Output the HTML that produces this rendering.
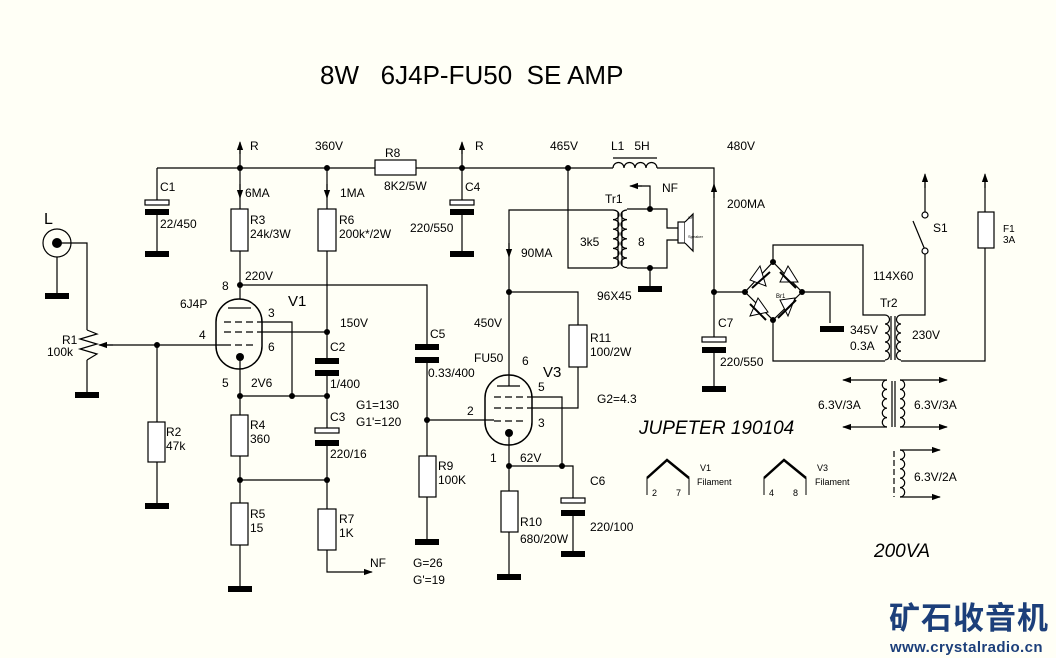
<!DOCTYPE html>
<html><head><meta charset="utf-8"><style>
html,body{margin:0;padding:0;background:#fffff6;}
svg{display:block;font-family:"Liberation Sans",Arial,sans-serif;}
text{font-size:12px;fill:#000;white-space:pre;}
</style></head><body>
<svg width="1056" height="658" viewBox="0 0 1056 658" xmlns="http://www.w3.org/2000/svg" xml:space="preserve">
<rect width="1056" height="658" fill="#fffff6"/>
<defs>
<marker id="ar" viewBox="0 0 10 10" refX="9" refY="5" markerWidth="9" markerHeight="9" markerUnits="userSpaceOnUse" orient="auto"><path d="M0,1.5 L10,5 L0,8.5 z" fill="#000"/></marker>
</defs>
<text x="320" y="84" style="font-size:26px">8W   6J4P-FU50  SE AMP</text>
<g stroke="#000" stroke-width="1.2" fill="none">
<path d="M157,168 H375 M416,168 H613 M657,168 H714 V292"/>
<rect x="375" y="160" width="41" height="15" fill="#fff"/>
<path d="M613,168 a5.5,5.5 0 0 1 11,0 a5.5,5.5 0 0 1 11,0 a5.5,5.5 0 0 1 11,0 a5.5,5.5 0 0 1 11,0"/>
<path d="M613,158 H657"/>
<path d="M240,168 V143 M462,168 V143"/>
<path d="M157,168 V200 M157,214 V253"/>
<rect x="145" y="200" width="24" height="5" fill="#fff"/>
<path d="M462,168 V200 M462,214 V253"/>
<rect x="450" y="200" width="24" height="5" fill="#fff"/>
<path d="M240,168 V209 M240,251 V299 M240,285 H427 V345 M427,360 V456 M427,497 V541"/>
<rect x="231" y="209" width="17" height="42" fill="#fff"/>
<rect x="419" y="456" width="17" height="41" fill="#fff"/>
<path d="M327,168 V209 M327,251 V359 M327,371 V428 M327,444 V509 M327,550 V572 H362" />
<rect x="318" y="209" width="18" height="42" fill="#fff"/>
<rect x="318" y="509" width="18" height="41" fill="#fff"/>
<rect x="315" y="428" width="24" height="5" fill="#fff"/>
<rect x="216" y="299" width="46" height="70" rx="23" ry="23" stroke-width="1.5"/>
<path d="M228,308 H251"/>
<path d="M224,322 H257 M224,332 H257 M224,345 H257" stroke-dasharray="7,4"/>
<path d="M257,322 H292 V396 M257,332 H327 M100,345 H224 M240,357 V415 M240,455 V503 M240,545 V588 M240,396 H327 M240,480 H327"/>
<rect x="231" y="415" width="17" height="41" fill="#fff"/>
<rect x="231" y="503" width="17" height="42" fill="#fff"/>
<circle cx="57" cy="243" r="14"/>
<path d="M57,257 V296 M57,243 H87 V330 M87,360 V392"/>
<path d="M87,330 L97,334 L80,339 L97,344 L80,349 L97,354 L87,360" />
<path d="M157,345 V422 M157,462 V505"/>
<rect x="148" y="422" width="17" height="40" fill="#fff"/>
<rect x="485" y="375" width="47" height="70" rx="23" ry="23" stroke-width="1.5"/>
<path d="M497,386 H520"/>
<path d="M494,397 H527 M494,408 H527 M494,421 H527" stroke-dasharray="7,4"/>
<path d="M509,386 V210 H613 M509,292 H578 V325 M578,367 V408 H527 M527,397 H562 V466 M427,420 H494 M509,433 V491 M509,532 V576 M509,466 H573 V498 M573,514 V553"/>
<rect x="569" y="325" width="18" height="42" fill="#fff"/>
<rect x="501" y="491" width="17" height="41" fill="#fff"/>
<rect x="561" y="498" width="24" height="5" fill="#fff"/>
<path d="M568,168 V268 H613"/>
<path d="M613,210 a6,4.8 0 0 1 0,9.6 a6,4.8 0 0 1 0,9.6 a6,4.8 0 0 1 0,9.6 a6,4.8 0 0 1 0,9.6 a6,4.8 0 0 1 0,9.6 a6,4.8 0 0 1 0,9.6"/>
<path d="M627,210 a6,4.8 0 0 0 0,9.6 a6,4.8 0 0 0 0,9.6 a6,4.8 0 0 0 0,9.6 a6,4.8 0 0 0 0,9.6 a6,4.8 0 0 0 0,9.6 a6,4.8 0 0 0 0,9.6"/>
<path d="M618,212 V266 M622,212 V266"/>
<path d="M627,209 H667 V228 H678 M627,268 H667 V240 H678 M650,268 V288 M650,209 V186 H637"/>
<rect x="678" y="222" width="7" height="21" fill="#fff"/>
<path d="M685,222 L693,214 V251 L685,243" fill="#fff"/>
<path d="M714,292 V337 M714,352 V388 M714,292 H745"/>
<rect x="702" y="337" width="24" height="5" fill="#fff"/>
<path d="M773,262 L745,292 L773,320 L802,292 Z"/>
<path d="M773,262 V245 H863 V315 H885 M773,320 V361 H885 M802,292 H830 V323"/>
<path d="M885,315 a4.5,4.5 0 0 1 0,9 a4.5,4.5 0 0 1 0,9 a4.5,4.5 0 0 1 0,9 a4.5,4.5 0 0 1 0,9 a4.5,4.5 0 0 1 0,9"/>
<path d="M901,315 a4.5,4.5 0 0 0 0,9 a4.5,4.5 0 0 0 0,9 a4.5,4.5 0 0 0 0,9 a4.5,4.5 0 0 0 0,9 a4.5,4.5 0 0 0 0,9"/>
<path d="M891,316 V360 M895,316 V360"/>
<path d="M901,315 H925 V253 M925,250 L913,221 M925,212 V178 M901,361 H985 V248 M985,212 V178"/>
<circle cx="925" cy="251" r="3" fill="#fff"/>
<circle cx="925" cy="215" r="3" fill="#fff"/>
<rect x="978" y="212" width="16" height="36" fill="#fff"/>
<path d="M887,380 a4.5,4.5 0 0 0 0,9.4 a4.5,4.5 0 0 0 0,9.4 a4.5,4.5 0 0 0 0,9.4 a4.5,4.5 0 0 0 0,9.4 a4.5,4.5 0 0 0 0,9.4"/>
<path d="M900,380 a4.5,4.5 0 0 1 0,9.4 a4.5,4.5 0 0 1 0,9.4 a4.5,4.5 0 0 1 0,9.4 a4.5,4.5 0 0 1 0,9.4 a4.5,4.5 0 0 1 0,9.4"/>
<path d="M892,381 V427 M895,381 V427"/>
<path d="M900,450 a4.5,4.5 0 0 1 0,9.4 a4.5,4.5 0 0 1 0,9.4 a4.5,4.5 0 0 1 0,9.4 a4.5,4.5 0 0 1 0,9.4 a4.5,4.5 0 0 1 0,9.4"/>
<path d="M894,451 V497" stroke-dasharray="6,3"/>
</g>
<g stroke="#000" stroke-width="1.2" fill="none" marker-end="url(#ar)">
<path d="M240,154 V142"/><path d="M462,154 V142"/>
<path d="M240,184 V198"/><path d="M327,184 V198"/>
<path d="M509,243 V257"/><path d="M714,198 V184"/>
<path d="M362,572 H372"/><path d="M642,186 H630"/>
<path d="M113,345 H99"/>
<path d="M925,188 V174"/><path d="M985,188 V174"/>
<path d="M887,380 H843"/><path d="M887,427 H843"/>
<path d="M900,380 H947"/><path d="M900,427 H947"/>
<path d="M900,450 H940"/><path d="M900,497 H940"/>
</g>
<g stroke="#000" stroke-width="1" fill="#fff">
<path d="M760,266 L766,286 L750,280 Z"/><path d="M752,288 L770,272" stroke-width="2"/>
<path d="M788,266 L798,282 L780,282 Z"/><path d="M780,272 L796,288" stroke-width="2"/>
<path d="M758,298 L768,312 L750,316 Z"/><path d="M750,304 L766,320" stroke-width="2"/>
<path d="M795,298 L788,316 L780,300 Z"/><path d="M778,318 L796,300" stroke-width="2"/>
</g>
<g fill="#000">
<circle cx="57" cy="243" r="5"/>
<circle cx="240" cy="357" r="4"/><circle cx="509" cy="433" r="4"/>
<rect x="145" y="209" width="24" height="6"/><rect x="145" y="251" width="24" height="6"/>
<rect x="450" y="209" width="24" height="6"/><rect x="450" y="251" width="24" height="6"/>
<rect x="45" y="293" width="24" height="6"/><rect x="75" y="392" width="24" height="6"/>
<rect x="145" y="503" width="24" height="6"/><rect x="228" y="586" width="24" height="6"/>
<rect x="315" y="358" width="24" height="6"/><rect x="315" y="370" width="24" height="6"/>
<rect x="315" y="440" width="24" height="6"/>
<rect x="415" y="344" width="24" height="6"/><rect x="415" y="357" width="24" height="6"/>
<rect x="415" y="539" width="24" height="6"/><rect x="497" y="574" width="24" height="6"/>
<rect x="561" y="510" width="24" height="6"/><rect x="561" y="551" width="24" height="6"/>
<rect x="638" y="286" width="24" height="6"/><rect x="702" y="347" width="24" height="6"/>
<rect x="702" y="386" width="24" height="6"/><rect x="820" y="326" width="24" height="6"/>
<circle cx="240" cy="168" r="3"/><circle cx="327" cy="168" r="3"/><circle cx="462" cy="168" r="3"/><circle cx="568" cy="168" r="3"/>
<circle cx="240" cy="285" r="3"/><circle cx="327" cy="332" r="3"/><circle cx="157" cy="345" r="3"/>
<circle cx="240" cy="396" r="3"/><circle cx="292" cy="396" r="3"/><circle cx="327" cy="396" r="3"/>
<circle cx="240" cy="480" r="3"/><circle cx="327" cy="480" r="3"/><circle cx="427" cy="420" r="3"/>
<circle cx="509" cy="292" r="3"/><circle cx="509" cy="466" r="3"/><circle cx="562" cy="466" r="3"/>
<circle cx="650" cy="209" r="3"/><circle cx="650" cy="268" r="3"/><circle cx="714" cy="292" r="3"/>
<circle cx="773" cy="262" r="3"/><circle cx="745" cy="292" r="3"/><circle cx="802" cy="292" r="3"/><circle cx="773" cy="320" r="3"/>
</g>
<g stroke="#000" fill="none">
<path d="M647,478 L667,460 L689,478" stroke-width="2.5"/>
<path d="M647,478 V495 M689,478 V495" stroke-width="1"/>
<path d="M764,478 L784,460 L806,478" stroke-width="2.5"/>
<path d="M764,478 V495 M806,478 V495" stroke-width="1"/>
</g>
<text x="250" y="150">R</text><text x="315" y="150">360V</text><text x="385" y="157">R8</text>
<text x="384" y="190">8K2/5W</text><text x="475" y="150">R</text><text x="550" y="150">465V</text>
<text x="611" y="150">L1   5H</text><text x="727" y="150">480V</text>
<text x="160" y="191">C1</text><text x="160" y="228">22/450</text>
<text x="465" y="191">C4</text><text x="410" y="232">220/550</text>
<text x="245" y="197">6MA</text><text x="340" y="197">1MA</text>
<text x="250" y="224">R3</text><text x="250" y="238">24k/3W</text>
<text x="339" y="224">R6</text><text x="339" y="238">200k*/2W</text>
<text x="44" y="224" style="font-size:16px">L</text>
<text x="62" y="344">R1</text><text x="47" y="356">100k</text>
<text x="222" y="290">8</text><text x="245" y="280">220V</text>
<text x="180" y="308">6J4P</text><text x="288" y="306" style="font-size:15px">V1</text>
<text x="268" y="317">3</text><text x="199" y="339">4</text><text x="268" y="351">6</text>
<text x="222" y="387">5</text><text x="251" y="387">2V6</text>
<text x="340" y="327">150V</text><text x="330" y="351">C2</text><text x="330" y="388">1/400</text>
<text x="430" y="338">C5</text><text x="428" y="377">0.33/400</text>
<text x="356" y="409">G1=130</text><text x="356" y="426">G1'=120</text>
<text x="330" y="421">C3</text><text x="330" y="458">220/16</text>
<text x="166" y="436">R2</text><text x="166" y="450">47k</text>
<text x="250" y="429">R4</text><text x="250" y="443">360</text>
<text x="250" y="518">R5</text><text x="250" y="532">15</text>
<text x="339" y="523">R7</text><text x="339" y="537">1K</text>
<text x="370" y="567">NF</text>
<text x="438" y="470">R9</text><text x="438" y="484">100K</text>
<text x="413" y="567">G=26</text><text x="413" y="584">G'=19</text>
<text x="521" y="257">90MA</text><text x="474" y="327">450V</text>
<text x="474" y="362">FU50</text><text x="522" y="365">6</text><text x="543" y="377" style="font-size:15px">V3</text>
<text x="538" y="391">5</text><text x="467" y="415">2</text><text x="538" y="427">3</text>
<text x="490" y="462">1</text><text x="520" y="462">62V</text>
<text x="590" y="342">R11</text><text x="590" y="356">100/2W</text>
<text x="597" y="403">G2=4.3</text>
<text x="520" y="526">R10</text><text x="520" y="543">680/20W</text>
<text x="590" y="485">C6</text><text x="590" y="531">220/100</text>
<text x="605" y="203">Tr1</text><text x="580" y="246">3k5</text><text x="638" y="246">8</text>
<text x="662" y="192">NF</text><text x="597" y="300">96X45</text>
<text x="727" y="208">200MA</text>
<text x="718" y="327">C7</text><text x="720" y="366">220/550</text>
<text x="873" y="280">114X60</text><text x="880" y="307">Tr2</text>
<text x="850" y="334">345V</text><text x="850" y="350">0.3A</text><text x="912" y="339">230V</text>
<text x="933" y="232">S1</text>
<text x="1003" y="232" style="font-size:10px">F1</text><text x="1003" y="243" style="font-size:10px">3A</text>
<text x="776" y="298" style="font-size:6px">Br1</text>
<text x="688" y="219" style="font-size:4px">SP</text><text x="688" y="238" style="font-size:4px">Speaker</text>
<text x="818" y="409">6.3V/3A</text><text x="914" y="409">6.3V/3A</text><text x="914" y="481">6.3V/2A</text>
<text x="639" y="434" style="font-size:19px;font-style:italic">JUPETER 190104</text>
<text x="874" y="557" style="font-size:19px;font-style:italic">200VA</text>
<text x="700" y="471" style="font-size:9px">V1</text><text x="697" y="485" style="font-size:9px">Filament</text>
<text x="652" y="496" style="font-size:9px">2</text><text x="676" y="496" style="font-size:9px">7</text>
<text x="817" y="471" style="font-size:9px">V3</text><text x="815" y="485" style="font-size:9px">Filament</text>
<text x="769" y="496" style="font-size:9px">4</text><text x="793" y="496" style="font-size:9px">8</text>
<text x="889" y="629" style="font-size:31px;font-weight:bold;fill:#1c3f7a;font-family:'Liberation Sans','Noto Sans CJK SC',sans-serif;letter-spacing:1px">矿石收音机</text>
<text x="890" y="652" style="font-size:15px;font-weight:bold;fill:#1c3f7a;letter-spacing:0.4px">www.crystalradio.cn</text>
</svg>
</body></html>
